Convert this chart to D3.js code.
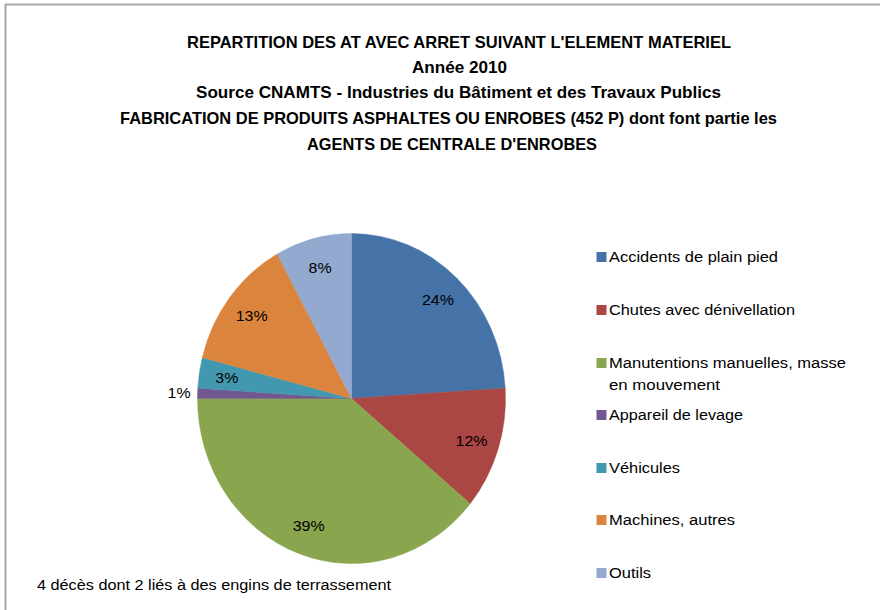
<!DOCTYPE html>
<html>
<head>
<meta charset="utf-8">
<script src="https://cdn.jsdelivr.net/npm/d3@7"></script>
<style>
  html, body { margin: 0; padding: 0; background: #fff; }
  svg { display: block; }
  text { font-family: "Liberation Sans", Arial, sans-serif; fill: #000; }
</style>
</head>
<body>
<svg id="chart" width="880" height="610"></svg>
<script>
// ---- data ----
const categories = [
  "Accidents de plain pied",
  "Chutes avec dénivellation",
  "Manutentions manuelles, masse en mouvement",
  "Appareil de levage",
  "Véhicules",
  "Machines, autres",
  "Outils"
];
const values = [24, 12, 39, 1, 3, 13, 8];
const colors = ["#4572A7", "#AA4643", "#89A54E", "#71588F", "#4198AF", "#DB843D", "#93A9CF"];
const legendLines = [
  ["Accidents de plain pied"],
  ["Chutes avec dénivellation"],
  ["Manutentions manuelles, masse", "en mouvement"],
  ["Appareil de levage"],
  ["Véhicules"],
  ["Machines, autres"],
  ["Outils"]
];
const legendWidths = [[169], [186], [237, 111], [134], [71], [126], [42]];
const titleLines = [
  "REPARTITION DES AT AVEC ARRET SUIVANT L'ELEMENT MATERIEL",
  "Année 2010",
  "Source CNAMTS - Industries du Bâtiment et des Travaux Publics",
  "FABRICATION DE PRODUITS ASPHALTES OU ENROBES (452 P) dont font partie les",
  "AGENTS DE CENTRALE D'ENROBES"
];
const titleX = [187, 412, 196, 120, 307];
const titleW = [544, 95, 525, 657, 290];
const noteText = "4 décès dont 2 liés à des engins de terrassement";

// ---- drawing ----
const svg = d3.select("#chart");

// border (top and left visible)
svg.append("line").attr("x1", 5).attr("x2", 880).attr("y1", 4.5).attr("y2", 4.5)
  .attr("stroke", "#a6a6a6").attr("stroke-width", 2);
svg.append("line").attr("x1", 5.5).attr("x2", 5.5).attr("y1", 4).attr("y2", 610)
  .attr("stroke", "#a6a6a6").attr("stroke-width", 2);

// title
const titleY = [42.5, 67.5, 92.5, 118.5, 144.5];
svg.append("g").selectAll("text").data(titleLines).join("text")
  .attr("x", (d, i) => titleX[i])
  .attr("y", (d, i) => titleY[i])
  .attr("dy", "0.35em")
  .attr("font-size", 16.5)
  .attr("font-weight", "bold")
  .attr("textLength", (d, i) => titleW[i])
  .attr("lengthAdjust", "spacingAndGlyphs")
  .text(d => d);

// pie
const cx = 351.5, cy = 398.5, R = 165, sx = 154 / 165;
const pie = d3.pie().sort(null).value(d => d);
const arcs = pie(values);
const arc = d3.arc().innerRadius(0).outerRadius(R);
const labelArc = d3.arc().innerRadius(R * 0.82).outerRadius(R * 0.82);
const outerLabelArc = d3.arc().innerRadius(R * 1.12).outerRadius(R * 1.12);

const pg = svg.append("g").attr("transform", `translate(${cx},${cy}) scale(${sx},1)`);
pg.selectAll("path").data(arcs).join("path")
  .attr("d", arc)
  .attr("fill", (d, i) => colors[i])
  .attr("stroke", (d, i) => colors[i])
  .attr("stroke-width", 0.5);

const lg = svg.append("g").attr("transform", `translate(${cx},${cy})`);
lg.selectAll("text").data(arcs).join("text")
  .attr("x", d => (d.data < 2 ? outerLabelArc : labelArc).centroid(d)[0] * sx)
  .attr("y", d => (d.data < 2 ? outerLabelArc : labelArc).centroid(d)[1])
  .attr("dy", "0.35em")
  .attr("text-anchor", "middle")
  .attr("font-size", 15)
  .attr("textLength", d => String(d.data).length === 1 ? 23 : 32)
  .attr("lengthAdjust", "spacingAndGlyphs")
  .text(d => d.data + "%");

// legend
const legY = [256.5, 309.5, 362.5, 414.5, 467.5, 519.5, 572.5];
const leg = svg.append("g");
categories.forEach((c, i) => {
  leg.append("rect").attr("x", 596.5).attr("y", legY[i] - 4.5).attr("width", 10).attr("height", 10)
    .attr("fill", colors[i]);
  legendLines[i].forEach((ln, j) => {
    leg.append("text")
      .attr("x", 609)
      .attr("y", legY[i] + j * 22)
      .attr("dy", "0.35em")
      .attr("font-size", 15.5)
      .attr("textLength", legendWidths[i][j])
      .attr("lengthAdjust", "spacingAndGlyphs")
      .text(ln);
  });
});

// note
svg.append("text").attr("x", 37).attr("y", 584.5).attr("dy", "0.35em")
  .attr("font-size", 15.5)
  .attr("textLength", 354)
  .attr("lengthAdjust", "spacingAndGlyphs")
  .text(noteText);
</script>
</body>
</html>
